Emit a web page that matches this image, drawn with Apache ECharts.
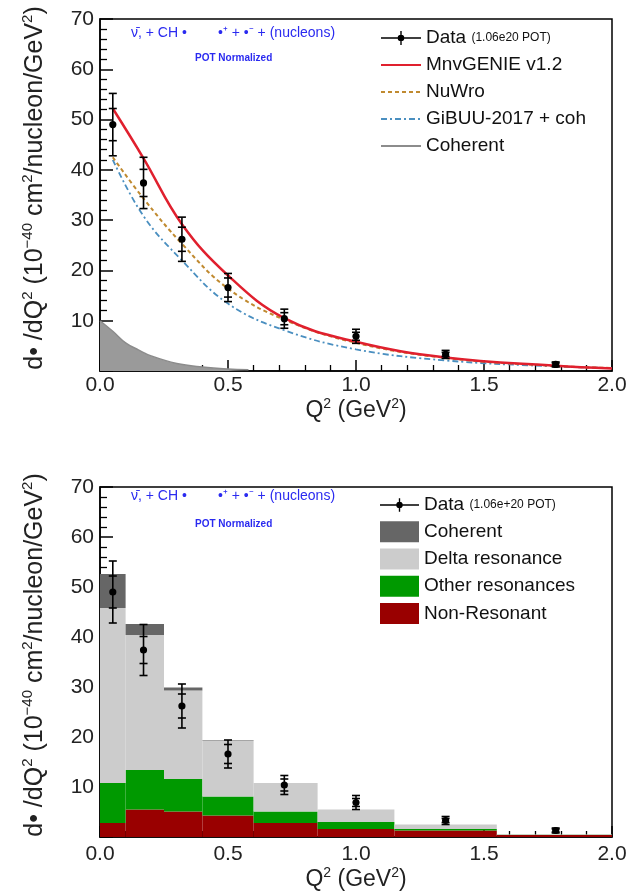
<!DOCTYPE html>
<html><head><meta charset="utf-8">
<script src="https://cdn.jsdelivr.net/npm/echarts@6/dist/echarts.min.js"></script>
<style>html,body{margin:0;padding:0;background:#fff}#c{width:640px;height:896px}</style>
</head><body><div id="c"></div>
<script>
// ---------- data ----------
const q2Data   = [0.05, 0.17, 0.32, 0.5, 0.72, 1.0, 1.35, 1.78];
const xsecData = [49.0, 37.4, 26.2, 16.6, 10.4, 6.9, 3.3, 1.3];
const statErr  = [3.2, 2.7, 2.4, 1.9, 1.2, 0.8, 0.4, 0.3];
const totErr   = [6.2, 5.1, 4.4, 2.8, 1.9, 1.4, 0.8, 0.5];

const q2Model  = [0.05, 0.17, 0.32, 0.5, 0.72, 1.0, 1.35, 1.78, 2.0];
const mnvGenie = [52.2, 42.3, 29.2, 19.0, 10.5, 5.8, 2.7, 1.05, 0.5];
const nuWro    = [42.5, 34.3, 25.3, 16.4, 10.2, 5.6, 2.6, 1.0, 0.6];
const giBUU    = [42.0, 30.8, 22.0, 13.4, 8.1, 4.3, 2.1, 0.9, 0.6];

const q2Coh    = [0, 0.05, 0.1, 0.15, 0.2, 0.3, 0.4, 0.5, 0.58];
const cohCurve = [10, 7.9, 5.6, 4.2, 3.0, 1.5, 0.8, 0.4, 0.25];

const binEdges = [0, 0.1, 0.25, 0.4, 0.6, 0.85, 1.15, 1.55, 2.0];
const nonRes   = [2.8, 5.5, 5.1, 4.3, 2.8, 1.6, 1.3, 0.4];
const otherRes = [8.0, 7.9, 6.5, 3.8, 2.3, 1.4, 0.3, 0.05];
const deltaRes = [35.0, 27.0, 17.7, 11.2, 5.7, 2.5, 0.9, 0.1];
const cohHist  = [6.8, 2.2, 0.6, 0.1, 0, 0, 0, 0];

const xTicks = [0, 0.5, 1.0, 1.5, 2.0];
const yTicks = [0, 10, 20, 30, 40, 50, 60, 70];

// ---------- helpers ----------
const FONT = "'Liberation Sans', Arial, Helvetica, sans-serif";
const zip = (a, b) => a.map((v, i) => [v, b[i]]);
const errRows = q2Data.map((x, i) => [x, xsecData[i], statErr[i], totErr[i]]);

function stackRows(layers) {
  const base = binEdges.slice(1).map(() => 0);
  return layers.map(vals => vals.map((v, i) => {
    const row = [binEdges[i], binEdges[i + 1], base[i], base[i] + v];
    base[i] += v;
    return row;
  }));
}
const [rowsNR, rowsOR, rowsDR, rowsCH] = stackRows([nonRes, otherRes, deltaRes, cohHist]);

function renderErr(params, api) {
  const x = api.value(0), y = api.value(1), s = api.value(2), t = api.value(3);
  const c = api.coord([x, y]);
  const tT = api.coord([x, y + t])[1], tB = api.coord([x, y - t])[1];
  const sT = api.coord([x, y + s])[1], sB = api.coord([x, y - s])[1];
  const hw = 4;
  const st = { stroke: '#000', lineWidth: 1.6 };
  const ln = (x1, y1, x2, y2) => ({ type: 'line', shape: { x1, y1, x2, y2 }, style: st });
  return { type: 'group', children: [
    ln(c[0], tT, c[0], tB),
    ln(c[0] - hw, tT, c[0] + hw, tT), ln(c[0] - hw, tB, c[0] + hw, tB),
    ln(c[0] - hw, sT, c[0] + hw, sT), ln(c[0] - hw, sB, c[0] + hw, sB),
    { type: 'circle', shape: { cx: c[0], cy: c[1], r: 3.6 }, style: { fill: '#000' } }
  ]};
}
function histRenderer(color) {
  return function (params, api) {
    const a = api.coord([api.value(0), api.value(3)]);
    const b = api.coord([api.value(1), api.value(2)]);
    return { type: 'rect', shape: { x: a[0], y: a[1], width: b[0] - a[0], height: b[1] - a[1] },
             style: { fill: color } };
  };
}

function xAxisCfg(gi, labelMargin) {
  return {
    type: 'value', gridIndex: gi, min: xTicks[0], max: xTicks[xTicks.length - 1], interval: 0.5,
    name: '{t|Q}{s|2}{t| (GeV}{s|2}{t|)}', nameLocation: 'middle', nameGap: 25,
    nameTextStyle: { rich: {
      t: { fontFamily: FONT, fontSize: 23, lineHeight: 28, color: '#222' },
      s: { fontFamily: FONT, fontSize: 14, lineHeight: 14, verticalAlign: 'top', color: '#222' } } },
    axisLine: { show: true, onZero: false, lineStyle: { color: '#000', width: 1.5 } },
    axisTick: { show: true, inside: true, length: 11, lineStyle: { color: '#000', width: 1.5 } },
    minorTick: { show: true, splitNumber: 5, length: 6, lineStyle: { color: '#000', width: 1.3 } },
    axisLabel: { margin: labelMargin, fontFamily: FONT, fontSize: 21, color: '#222',
                 formatter: v => v.toFixed(1) },
    splitLine: { show: false }
  };
}
function yAxisCfg(gi) {
  return {
    type: 'value', gridIndex: gi, min: yTicks[0], max: yTicks[yTicks.length - 1], interval: 10,
    name: '{t|d• /dQ}{s|2}{t| (10}{s|−40}{t| cm}{s|2}{t|/nucleon/GeV}{s|2}{t|)}',
    nameLocation: 'middle', nameGap: 50,
    nameTextStyle: { padding: [0, 0, 0, 14], rich: {
      t: { fontFamily: FONT, fontSize: 25, lineHeight: 30, color: '#222' },
      s: { fontFamily: FONT, fontSize: 15, lineHeight: 15, verticalAlign: 'top', color: '#222' } } },
    axisLine: { show: true, onZero: false, lineStyle: { color: '#000', width: 1.5 } },
    axisTick: { show: true, inside: true, length: 13, lineStyle: { color: '#000', width: 1.5 } },
    minorTick: { show: true, splitNumber: 5, length: 7, lineStyle: { color: '#000', width: 1.3 } },
    axisLabel: { margin: 6, fontFamily: FONT, fontSize: 21, color: '#222',
                 formatter: v => (v === 0 ? '' : String(v)) },
    splitLine: { show: false }
  };
}

const dataIcon = 'path://M0,9.3h40v1.4h-40z M19.3,3h1.4v14h-1.4z M23.3,10a3.3,3.3 0 1,1 -6.6,0a3.3,3.3 0 1,1 6.6,0z';
const legendText = { fontFamily: FONT, fontSize: 19, color: '#111', lineHeight: 20,
  rich: { a: { fontFamily: FONT, fontSize: 19, color: '#111' }, b: { fontFamily: FONT, fontSize: 12, color: '#111' } } };
const noSym = { opacity: 0 };

function annot(y1, y2) {
  return [
    { type: 'text', left: 131, top: y1, style: { text: 'ν̄, + CH •        •⁺ + •⁻ + (nucleons)',
      fill: '#2a2af0', font: '14px ' + FONT } },
    { type: 'text', left: 195, top: y2, style: { text: 'POT Normalized',
      fill: '#2a2af0', font: 'bold 10px ' + FONT } }
  ];
}

const chart = echarts.init(document.getElementById('c'), null, { renderer: 'canvas' });
chart.setOption({
  animation: false,
  backgroundColor: '#fff',
  grid: [
    { left: 100, top: 19, width: 512, height: 352, show: true, borderColor: '#000', borderWidth: 1.5, backgroundColor: 'transparent' },
    { left: 100, top: 487, width: 512, height: 350, show: true, borderColor: '#000', borderWidth: 1.5, backgroundColor: 'transparent' }
  ],
  xAxis: [xAxisCfg(0, 4), xAxisCfg(1, 7)],
  yAxis: [yAxisCfg(0), yAxisCfg(1)],
  legend: [
    { left: 375, top: 23, orient: 'vertical', itemWidth: 40, itemHeight: 20, itemGap: 7, selectedMode: false,
      textStyle: legendText,
      formatter: n => (n === 'Data' ? '{a|Data} {b|(1.06e20 POT)}' : n),
      data: [ { name: 'Data', icon: dataIcon, itemStyle: { color: '#000' } },
              { name: 'MnvGENIE v1.2', itemStyle: noSym }, { name: 'NuWro', itemStyle: noSym },
              { name: 'GiBUU-2017 + coh', itemStyle: noSym }, { name: 'Coherent', itemStyle: noSym } ] },
    { left: 375, top: 490, orient: 'vertical', itemWidth: 39, itemHeight: 21, itemGap: 6.25, selectedMode: false,
      textStyle: legendText,
      formatter: n => (n.trim() === 'Data' ? '{a|Data} {b|(1.06e+20 POT)}' : n.trim()),
      data: [ { name: 'Data ', icon: dataIcon, itemStyle: { color: '#000' } },
              { name: 'Coherent ', icon: 'rect' }, { name: 'Delta resonance', icon: 'rect' },
              { name: 'Other resonances', icon: 'rect' }, { name: 'Non-Resonant', icon: 'rect' } ] }
  ],
  graphic: [].concat(annot(26, 53), annot(489, 519)),
  series: [
    { name: 'Coherent', type: 'line', xAxisIndex: 0, yAxisIndex: 0, data: zip(q2Coh, cohCurve),
      smooth: 0.4, symbol: 'none', z: 1,
      lineStyle: { color: '#8c8c8c', width: 1.5 }, itemStyle: { color: '#8c8c8c' },
      areaStyle: { color: '#9a9a9a', opacity: 1 } },
    { name: 'GiBUU-2017 + coh', type: 'line', xAxisIndex: 0, yAxisIndex: 0, data: zip(q2Model, giBUU),
      smooth: 0.4, symbol: 'none', z: 2,
      lineStyle: { color: '#4a8fc0', width: 1.8, type: [6, 3, 2, 3] }, itemStyle: { color: '#4a8fc0' } },
    { name: 'NuWro', type: 'line', xAxisIndex: 0, yAxisIndex: 0, data: zip(q2Model, nuWro),
      smooth: 0.4, symbol: 'none', z: 3,
      lineStyle: { color: '#c08a30', width: 2, type: [4, 3] }, itemStyle: { color: '#c08a30' } },
    { name: 'MnvGENIE v1.2', type: 'line', xAxisIndex: 0, yAxisIndex: 0, data: zip(q2Model, mnvGenie),
      smooth: 0.4, symbol: 'none', z: 4,
      lineStyle: { color: '#e0202e', width: 2.5 }, itemStyle: { color: '#e0202e' } },
    { name: 'Data', type: 'custom', xAxisIndex: 0, yAxisIndex: 0, data: errRows, z: 10,
      itemStyle: { color: '#000' }, renderItem: renderErr, encode: { x: 0, y: [1] } },

    { name: 'Non-Resonant', type: 'custom', xAxisIndex: 1, yAxisIndex: 1, data: rowsNR, z: 1,
      itemStyle: { color: '#990000' }, renderItem: histRenderer('#990000'), encode: { x: [0, 1], y: [2, 3] } },
    { name: 'Other resonances', type: 'custom', xAxisIndex: 1, yAxisIndex: 1, data: rowsOR, z: 1,
      itemStyle: { color: '#009900' }, renderItem: histRenderer('#009900'), encode: { x: [0, 1], y: [2, 3] } },
    { name: 'Delta resonance', type: 'custom', xAxisIndex: 1, yAxisIndex: 1, data: rowsDR, z: 1,
      itemStyle: { color: '#cccccc' }, renderItem: histRenderer('#cccccc'), encode: { x: [0, 1], y: [2, 3] } },
    { name: 'Coherent ', type: 'custom', xAxisIndex: 1, yAxisIndex: 1, data: rowsCH, z: 1,
      itemStyle: { color: '#666666' }, renderItem: histRenderer('#666666'), encode: { x: [0, 1], y: [2, 3] } },
    { name: 'Data ', type: 'custom', xAxisIndex: 1, yAxisIndex: 1, data: errRows, z: 10,
      itemStyle: { color: '#000' }, renderItem: renderErr, encode: { x: 0, y: [1] } }
  ]
});
</script></body></html>
